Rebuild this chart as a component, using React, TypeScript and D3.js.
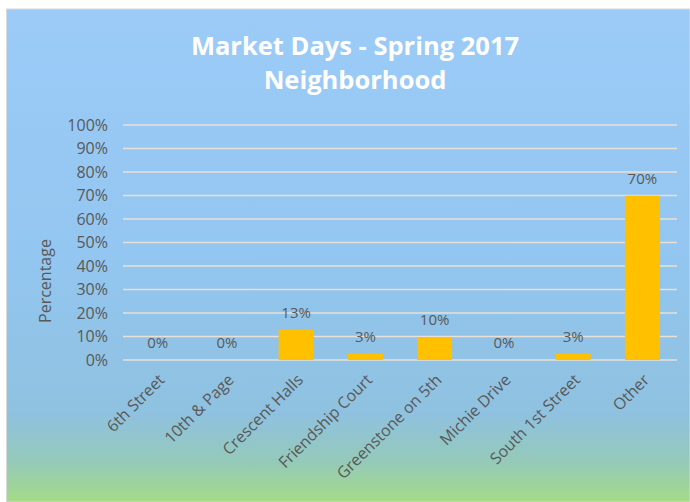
import React from "react";
import * as d3 from "d3";

const categories = [
  "6th Street",
  "10th & Page",
  "Crescent Halls",
  "Friendship Court",
  "Greenstone on 5th",
  "Michie Drive",
  "South 1st Street",
  "Other",
];
const values = [0, 0, 0.129, 0.026, 0.097, 0, 0.026, 0.699];
const labels = ["0%", "0%", "13%", "3%", "10%", "0%", "3%", "70%"];
const yTicks = [0, 0.1, 0.2, 0.3, 0.4, 0.5, 0.6, 0.7, 0.8, 0.9, 1.0];
const titleLines = ["Market Days - Spring 2017", "Neighborhood"];
const yAxisTitle = "Percentage";

const W = 690;
const H = 502;
const FONT = "'Open Sans', sans-serif";
const GRAY = "#595959";

export default function App() {
  const x = d3.scaleBand<string>().domain(categories).range([123, 677]).paddingInner(0.495).paddingOuter(0.2475);
  const y = d3.scaleLinear().domain([0, 1]).range([360, 125]);
  const fmt = d3.format(".0%");

  return (
    <svg
      width={W}
      height={H}
      style={{ position: "absolute", left: 0, top: 0, display: "block" }}
    >
      <defs>
        <linearGradient id="bg" x1="0" y1="0" x2="0" y2="1">
          <stop offset="0" stopColor="#9ccbf8" />
          <stop offset="0.5" stopColor="#93c6f0" />
          <stop offset="0.82" stopColor="#8fc1e0" />
          <stop offset="0.92" stopColor="#95cab8" />
          <stop offset="1" stopColor="#a5db86" />
        </linearGradient>
      </defs>
      <rect x={0} y={0} width={W} height={H} fill="#ffffff" />
      <rect x={6.5} y={9} width={W - 6.5} height={H - 9} fill="url(#bg)" stroke="#d9d9d9" strokeWidth={1} />

      {titleLines.map((t, i) => (
        <text
          key={t}
          x={355}
          y={55 + i * 34}
          textAnchor="middle"
          fill="#ffffff"
          fontFamily={FONT}
          fontWeight="bold"
          fontSize={25.5}
        >
          {t}
        </text>
      ))}

      {yTicks.map((t) => (
        <g key={t}>
          <line x1={123} x2={677} y1={y(t)} y2={y(t)} stroke="#e8e0d6" strokeWidth={1.5} />
          <text
            x={108}
            y={y(t)}
            dy="0.35em"
            textAnchor="end"
            fill={GRAY}
            fontFamily={FONT}
            fontSize={16}
          >
            {fmt(t)}
          </text>
        </g>
      ))}

      <text
        transform={`translate(45,281) rotate(-90)`}
        textAnchor="middle"
        dy="0.35em"
        fill={GRAY}
        fontFamily={FONT}
        fontSize={16}
      >
        {yAxisTitle}
      </text>

      {categories.map((c, i) => (
        <g key={c}>
          <rect
            x={x(c)}
            y={y(values[i])}
            width={x.bandwidth()}
            height={y(0) - y(values[i])}
            fill="#ffc000"
          />
          <text
            x={(x(c) as number) + x.bandwidth() / 2}
            y={y(values[i]) - 12}
            textAnchor="middle"
            fill={GRAY}
            fontFamily={FONT}
            fontSize={15}
          >
            {labels[i]}
          </text>
          <text
            transform={`translate(${(x(c) as number) + x.bandwidth() / 2 + 4},${377}) rotate(-45)`}
            textAnchor="end"
            dy="0.35em"
            fill={GRAY}
            fontFamily={FONT}
            fontSize={16}
          >
            {c}
          </text>
        </g>
      ))}
    </svg>
  );
}
